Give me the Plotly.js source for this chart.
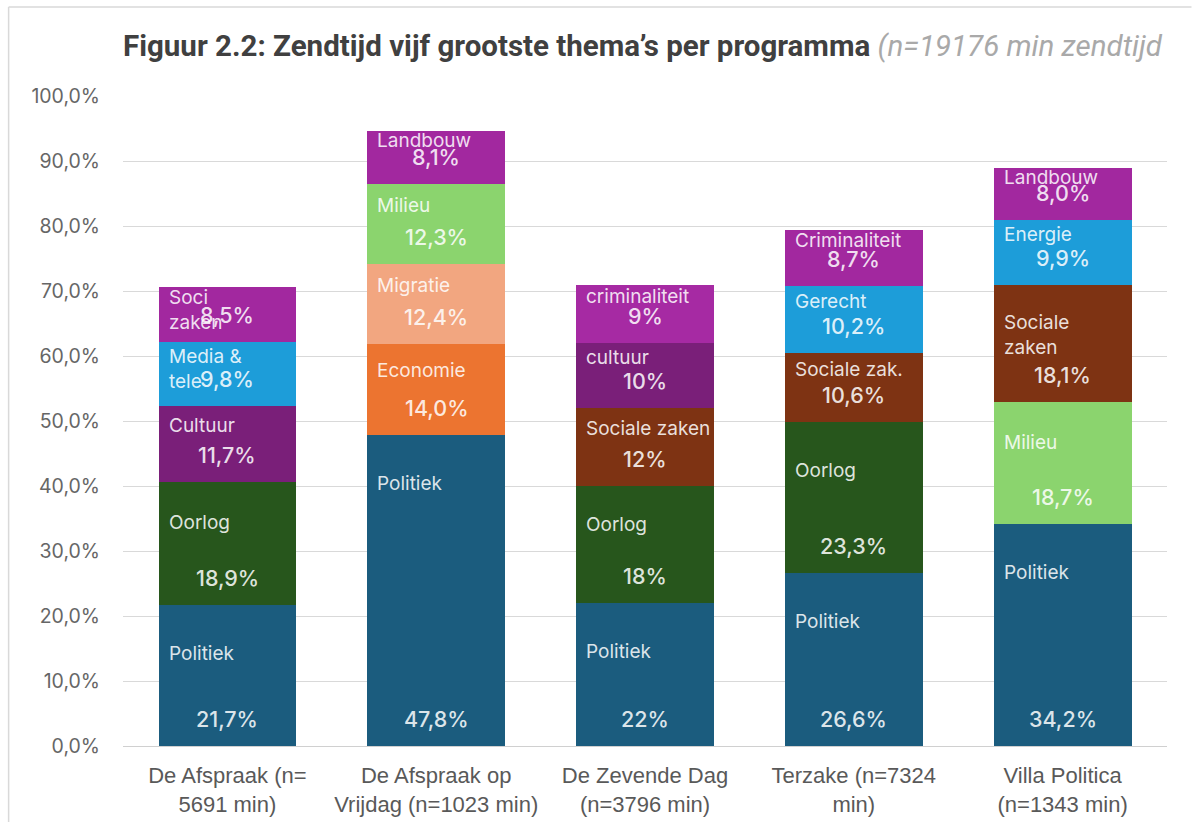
<!DOCTYPE html>
<html>
<head>
<meta charset="utf-8">
<script src="https://cdn.plot.ly/plotly-3.0.1.min.js"></script>
<style>
  html, body { margin: 0; padding: 0; background: #ffffff; }
  #chart { width: 1192px; height: 822px; }
</style>
</head>
<body>
<div id="chart"></div>
<script>
// ---------- data ----------
const categories = [
  'De Afspraak (n=<br>5691 min)',
  'De Afspraak op<br>Vrijdag (n=1023 min)',
  'De Zevende Dag<br>(n=3796 min)',
  'Terzake (n=7324<br>min)',
  'Villa Politica<br>(n=1343 min)'
];

// stack layers, bottom to top
const layer1Values = [21.7, 47.8, 22, 26.6, 34.2];
const layer1Themes = ['Politiek', 'Politiek', 'Politiek', 'Politiek', 'Politiek'];
const layer1Labels = ['21,7%', '47,8%', '22%', '26,6%', '34,2%'];

const layer2Values = [18.9, 14.0, 18, 23.3, 18.7];
const layer2Themes = ['Oorlog', 'Economie', 'Oorlog', 'Oorlog', 'Milieu'];
const layer2Labels = ['18,9%', '14,0%', '18%', '23,3%', '18,7%'];

const layer3Values = [11.7, 12.4, 12, 10.6, 18.1];
const layer3Themes = ['Cultuur', 'Migratie', 'Sociale zaken', 'Sociale zak.', 'Sociale|zaken'];
const layer3Labels = ['11,7%', '12,4%', '12%', '10,6%', '18,1%'];

const layer4Values = [9.8, 12.3, 10, 10.2, 9.9];
const layer4Themes = ['Media &|tele', 'Milieu', 'cultuur', 'Gerecht', 'Energie'];
const layer4Labels = ['9,8%', '12,3%', '10%', '10,2%', '9,9%'];

const layer5Values = [8.5, 8.1, 9, 8.7, 8.0];
const layer5Themes = ['Soci|zaken', 'Landbouw', 'criminaliteit', 'Criminaliteit', 'Landbouw'];
const layer5Labels = ['8,5%', '8,1%', '9%', '8,7%', '8,0%'];

const yTickVals = [0, 10, 20, 30, 40, 50, 60, 70, 80, 90, 100];
const yTickText = ['0,0%', '10,0%', '20,0%', '30,0%', '40,0%', '50,0%', '60,0%', '70,0%', '80,0%', '90,0%', '100,0%'];

// ---------- styles ----------
const themeColors = {
  'Politiek': '#1b5c7e',
  'Oorlog': '#27561c',
  'Economie': '#ec7430',
  'Milieu': '#8bd46e',
  'Cultuur': '#7a1f79',
  'cultuur': '#7a1f79',
  'Migratie': '#f2a680',
  'Sociale zaken': '#7e3313',
  'Sociale zak.': '#7e3313',
  'Media & tele': '#1d9dd9',
  'Gerecht': '#1d9dd9',
  'Energie': '#1d9dd9',
  'Soci zaken': '#a2289f',
  'Landbouw': '#a2289f',
  'criminaliteit': '#a62aa3',
  'Criminaliteit': '#a2289f'
};

const W = 1192, H = 822;
const M = { l: 122.5, r: 24.5, t: 96, b: 76 };
const plotW = W - M.l - M.r, plotH = H - M.t - M.b;
const pxPerUnit = plotH / 100;
const barWidth = 0.66;
const labelFont = 'Inter, "Noto Sans", sans-serif';
const labelColor = 'rgba(255,255,255,0.86)';
const nameSize = 19;
const pctSize = 21.5;

const layers = [
  { v: layer1Values, t: layer1Themes, l: layer1Labels },
  { v: layer2Values, t: layer2Themes, l: layer2Labels },
  { v: layer3Values, t: layer3Themes, l: layer3Labels },
  { v: layer4Values, t: layer4Themes, l: layer4Labels },
  { v: layer5Values, t: layer5Themes, l: layer5Labels }
];

const xIdx = categories.map((c, i) => i);
const traces = [];
const annotations = [];
const base = categories.map(() => 0);

layers.forEach(layer => {
  traces.push({
    type: 'bar',
    x: xIdx,
    y: layer.v,
    width: barWidth,
    marker: { color: layer.t.map(t => themeColors[t.replace('|', ' ')]), line: { width: 0 } },
    hoverinfo: 'skip',
    showlegend: false
  });
  layer.v.forEach((val, i) => {
    const bottom = base[i];
    const top = bottom + val;
    const hpx = val * pxPerUnit;
    const off = Math.max(7, Math.min(48, 0.45 * hpx - 15));
    annotations.push({
      x: i - barWidth / 2, y: top, xref: 'x', yref: 'y',
      xanchor: 'left', yanchor: 'top', xshift: 8, yshift: -(off - 13),
      text: layer.t[i].replace('|', '<br>'), showarrow: false, align: 'left',
      font: { family: labelFont, size: nameSize, color: labelColor }
    });
    annotations.push({
      x: i, y: bottom, xref: 'x', yref: 'y',
      xanchor: 'center', yanchor: 'middle', yshift: 27, xshift: 0,
      text: layer.l[i], showarrow: false,
      font: { family: labelFont, size: pctSize, color: labelColor, weight: 500 }
    });
    base[i] = top;
  });
});

// outer chart border (left and top edge)
const px2x = px => (px - M.l) / plotW;
const px2y = py => (M.t + plotH - py) / plotH;
const borderColor = '#d9d9d9';
const shapes = [
  { type: 'line', xref: 'paper', yref: 'paper', x0: px2x(8), x1: px2x(8), y0: px2y(7), y1: px2y(H), line: { color: borderColor, width: 1.5 } },
  { type: 'line', xref: 'paper', yref: 'paper', x0: px2x(8), x1: px2x(W), y0: px2y(7), y1: px2y(7), line: { color: borderColor, width: 1.5 } }
];

const layout = {
  width: W, height: H,
  margin: M,
  paper_bgcolor: '#ffffff', plot_bgcolor: '#ffffff',
  barmode: 'stack',
  title: {
    text: '<b>Figuur 2.2: Zendtijd vijf grootste thema’s per programma</b> <i><span style="color:#a9a9a9">(n=19176 min zendtijd</span></i>',
    x: 0, xref: 'paper', xanchor: 'left',
    y: 1 - 46 / H, yref: 'container', yanchor: 'middle',
    font: { family: 'Roboto, "Liberation Sans", sans-serif', size: 29.5, color: '#404040' }
  },
  xaxis: {
    range: [-0.5, categories.length - 0.5],
    tickmode: 'array', tickvals: xIdx, ticktext: categories,
    showgrid: false, zeroline: false, showline: false, ticks: '',
    ticklabelstandoff: 14,
    tickfont: { family: '"Liberation Sans", Arial, sans-serif', size: 22, color: '#595959' },
    fixedrange: true
  },
  yaxis: {
    range: [0, 100],
    tickmode: 'array', tickvals: yTickVals, ticktext: yTickText,
    showgrid: true, gridcolor: '#d9d9d9', gridwidth: 1,
    zeroline: true, zerolinecolor: '#d0d0d0', zerolinewidth: 1,
    showline: false, ticks: '', ticklabelstandoff: 22,
    tickfont: { family: 'Inter, "Noto Sans", sans-serif', size: 19.5, color: '#666666' },
    fixedrange: true
  },
  annotations: annotations,
  shapes: shapes,
  bargap: 0
};

Plotly.newPlot('chart', traces, layout, { displayModeBar: false, staticPlot: true });
</script>
</body>
</html>
